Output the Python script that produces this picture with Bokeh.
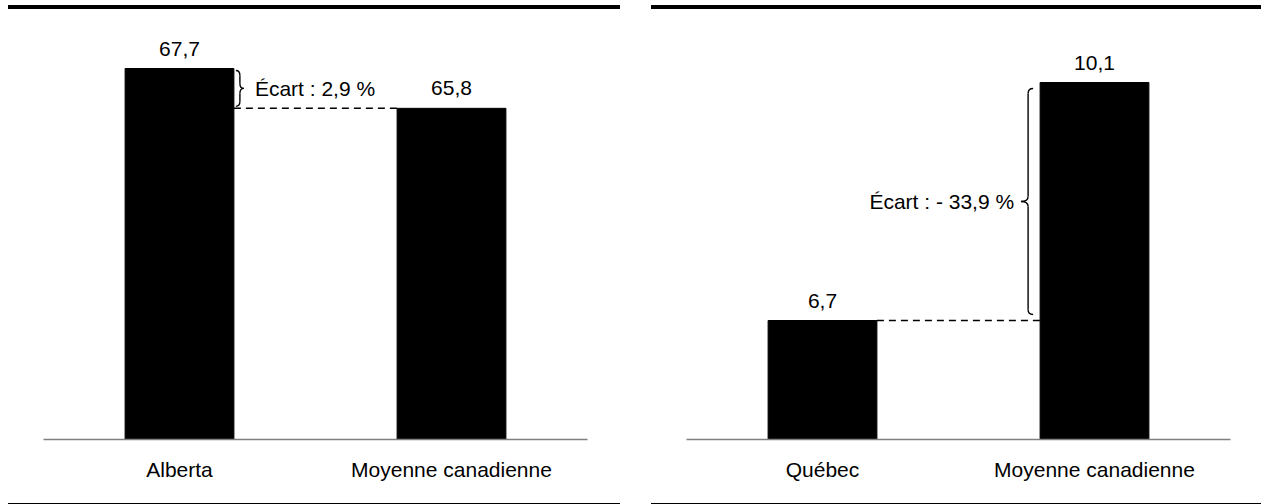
from bokeh.plotting import figure
from bokeh.models import Div, FixedTicker, Range1d, Spacer
from bokeh.layouts import row, column
from bokeh.embed import file_html
from bokeh.resources import INLINE
from bokeh.core.properties import value

FONT = "Liberation Sans"

# ---------------- data ----------------
left_cats = ["Alberta", "Moyenne canadienne"]
left_vals = [67.7, 65.8]
left_value_labels = ["67,7", "65,8"]
left_gap_text = "Écart : 2,9 %"
left_axis_start = 50.0

right_cats = ["Québec", "Moyenne canadienne"]
right_vals = [6.7, 10.1]
right_value_labels = ["6,7", "10,1"]
right_gap_text = "Écart : - 33,9 %"
right_axis_start = 5.0

# ---------------- layout constants ----------------
FRAME_W = 544
FRAME_H = 430
FIG_H = 494
BAR_W = 0.4
FS = "21px"


def panel(cats, vals, labels, gap_text, y0, y1, width, border_left, brace_cfg):
    p = figure(width=width, height=FIG_H, output_backend="svg", toolbar_location=None,
               x_range=Range1d(-0.5, 1.5), y_range=Range1d(y0, y1),
               y_axis_location=None, min_border_left=border_left,
               min_border_right=width - border_left - FRAME_W,
               min_border_top=0, min_border_bottom=FIG_H - FRAME_H)
    p.outline_line_color = None
    p.grid.visible = False
    p.background_fill_color = "white"
    p.border_fill_color = "white"

    xs = list(range(len(cats)))
    p.vbar(x=xs, width=BAR_W, bottom=y0, top=vals, fill_color="black", line_color="black")
    p.text(x=xs, y=vals, text=labels, text_align="center", text_baseline="bottom",
           y_offset=-13, text_font=value(FONT), text_font_size=FS, text_color="black")

    # dashed line at the lower value, between the two bars
    lo = min(vals)
    hi = max(vals)
    p.segment(x0=[xs[0] + BAR_W / 2], y0=[lo], x1=[xs[1] - BAR_W / 2], y1=[lo],
              line_color="black", line_width=1.5, line_dash="7 5")

    # brace next to the taller bar
    px_x = 2.0 / FRAME_W  # data units per px (x range = 2)
    px_y = (y1 - y0) / FRAME_H
    hi_idx = vals.index(hi)
    s = 1 if hi_idx == 0 else -1
    edge = xs[hi_idx] + s * BAR_W / 2
    gap, a, b, gapv, txt_gap = brace_cfg
    xe = edge + s * gap * px_x
    xsp = xe + s * a * px_x
    xt = xsp + s * b * px_x
    ytop = hi - gapv * px_y
    ybot = lo + gapv * px_y
    ymid = (ytop + ybot) / 2
    r = 5 * px_y
    p.quadratic(x0=[xe, xsp, xt, xsp], y0=[ytop, ymid + r, ymid, ybot + r],
                x1=[xsp, xt, xsp, xe], y1=[ytop - r, ymid, ymid - r, ybot],
                cx=[xsp, xsp, xsp, xsp], cy=[ytop, ymid, ymid, ybot],
                line_color="black", line_width=1.4)
    p.segment(x0=[xsp, xsp], y0=[ytop - r, ymid - r], x1=[xsp, xsp], y1=[ymid + r, ybot + r],
              line_color="black", line_width=1.4)
    p.text(x=[xt], y=[ymid], text=[gap_text], text_align="left" if s > 0 else "right",
           text_baseline="middle", x_offset=s * txt_gap,
           text_font=value(FONT), text_font_size=FS, text_color="black")

    ax = p.xaxis[0]
    ax.ticker = FixedTicker(ticks=xs)
    ax.major_label_overrides = {i: c for i, c in zip(xs, cats)}
    ax.axis_line_color = "#808080"
    ax.axis_line_width = 1.5
    ax.major_tick_line_color = None
    ax.minor_tick_line_color = None
    ax.major_tick_out = 0
    ax.major_tick_in = 0
    ax.major_label_standoff = 18
    ax.major_label_text_font = FONT
    ax.major_label_text_font_size = FS
    ax.major_label_text_color = "black"

    top = Div(text="", width=width, height=4, margin=0, styles={"background-color": "black"})
    bot = Div(text="", width=width, height=1, margin=0, styles={"background-color": "black"})
    return column(top, p, bot, margin=0, spacing=0)


LEFT_W = 612
RIGHT_W = 610
left = panel(left_cats, left_vals, left_value_labels, left_gap_text,
             left_axis_start, left_axis_start + FRAME_H / 20.96, LEFT_W, 35,
             (2, 4, 4, 2, 11))
right = panel(right_cats, right_vals, right_value_labels, right_gap_text,
              right_axis_start, right_axis_start + FRAME_H / 70.0, RIGHT_W, 35,
              (7, 5, 7, 6, 7))

layout = row(left, Spacer(width=31, height=10, margin=0), right, margin=(5, 0, 0, 8), spacing=0)

open("out.html", "w").write(file_html(layout, INLINE))
